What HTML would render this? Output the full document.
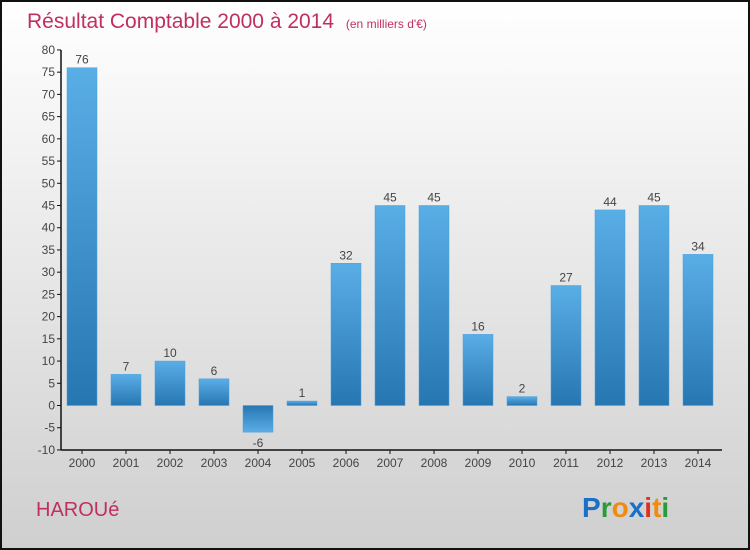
<!DOCTYPE html>
<html><head><meta charset="utf-8"><style>
body{margin:0;width:750px;height:550px;overflow:hidden}
#c{position:absolute;left:0;top:0;width:746px;height:546px;border:2px solid #111;background:linear-gradient(#ffffff,#cfcfcf)}
text{font-family:"Liberation Sans",sans-serif}
</style></head><body>
<div id="c"></div>
<svg id="s" width="750" height="550" style="position:absolute;left:0;top:0">
<defs>
<linearGradient id="gp" x1="0" y1="0" x2="0" y2="1"><stop offset="0" stop-color="#5aaee6"/><stop offset="1" stop-color="#2676b2"/></linearGradient>
<linearGradient id="gn" x1="0" y1="0" x2="0" y2="1"><stop offset="0" stop-color="#2676b2"/><stop offset="1" stop-color="#5aaee6"/></linearGradient>
</defs>
<text x="27" y="28" font-size="21" fill="#c0305e">Résultat Comptable 2000 à 2014 <tspan font-size="12" dx="6">(en milliers d'€)</tspan></text>
<text x="36" y="516" font-size="20" fill="#c0305e">HAROUé</text>
<text x="582" y="517" font-size="28" font-weight="bold"><tspan fill="#1a6fc8">P</tspan><tspan fill="#2a9a3a">r</tspan><tspan fill="#f08a10">o</tspan><tspan fill="#1a6fc8">x</tspan><tspan fill="#e03020">i</tspan><tspan fill="#f08a10">t</tspan><tspan fill="#2a9a3a">i</tspan></text>
<g id="g"></g>
</svg>
<script>
const categories=["2000","2001","2002","2003","2004","2005","2006","2007","2008","2009","2010","2011","2012","2013","2014"];
const values=[76,7,10,6,-6,1,32,45,45,16,2,27,44,45,34];
const yTicks=[-10,-5,0,5,10,15,20,25,30,35,40,45,50,55,60,65,70,75,80];
const ns="http://www.w3.org/2000/svg",g=document.getElementById('g');
const y=v=>405.5-v*400/90, x=i=>82+i*44;
function el(t,a,txt){const e=document.createElementNS(ns,t);for(const k in a)e.setAttribute(k,a[k]);if(txt!==undefined)e.textContent=txt;g.appendChild(e);return e;}
yTicks.forEach(t=>{
 const l=el('line',{x1:57,x2:61,y1:y(t),y2:y(t),stroke:'#111'});
 
 
 const tx=el('text',{x:55,y:y(t)+4,'font-size':12,fill:'#444','text-anchor':'end'},t);
 
 
});
categories.forEach((c,i)=>{
 const v=values[i],top=Math.min(y(v),y(0)),h=Math.abs(y(v)-y(0));
 const r=el('rect',{x:x(i)-15,y:top,width:30,height:Math.max(h,1),fill:v>=0?'url(#gp)':'url(#gn)',stroke:'#4aa0dc','stroke-width':0.5});
 
 
 const vl=el('text',{x:x(i),y:v>=0?y(v)-4:y(v)+15,'font-size':12,fill:'#444','text-anchor':'middle'},v);
 
 
 const tk=el('line',{x1:x(i),x2:x(i),y1:450,y2:454,stroke:'#111'});
 
 
 const xl=el('text',{x:x(i),y:467,'font-size':12,fill:'#444','text-anchor':'middle'},c);
 
 
});
const ya=el('line',{x1:61,x2:61,y1:50,y2:450,stroke:'#111','stroke-width':1.5});


const xa=el('line',{x1:61,x2:722,y1:450,y2:450,stroke:'#111','stroke-width':1.5});


</script>
</body></html>
